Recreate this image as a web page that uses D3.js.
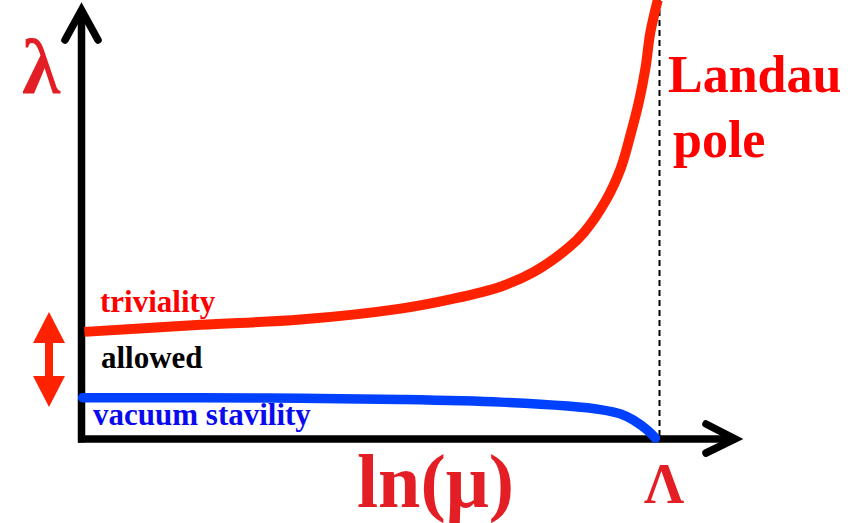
<!DOCTYPE html>
<html><head><meta charset="utf-8">
<script src="https://cdn.jsdelivr.net/npm/d3@7"></script>
<style>html,body{margin:0;padding:0;background:#fff;}svg{display:block;}
text{font-family:"Liberation Serif","Times New Roman",Times,"DejaVu Serif",serif;font-weight:bold;}</style>
</head><body>
<svg id="c" width="861" height="523"></svg>
<script>
// ln(mu) positions (Lambda = 10) and lambda values
const trivialityX = [0.05, 2.06, 3.79, 5.52, 6.38, 7.25, 7.82, 8.41, 8.69, 9.07, 9.33, 9.50, 9.65, 9.76, 9.84, 9.97];
const trivialityY = [2.44, 2.60, 2.72, 2.97, 3.18, 3.47, 3.80, 4.34, 4.70, 5.43, 6.17, 6.94, 7.72, 8.47, 9.25, 10.0];
const stabilityX = [0.02, 2.06, 3.79, 5.52, 7.25, 8.41, 8.98, 9.33, 9.55, 9.79, 9.93];
const stabilityY = [0.94, 0.94, 0.93, 0.90, 0.84, 0.75, 0.67, 0.57, 0.43, 0.20, 0.02];
const landauPole = 10;
const labels = {y: "λ", x: "ln(μ)", pole: "Λ", landau: ["Landau", "pole"],
  triv: "triviality", allowed: "allowed", vac: "vacuum stavility"};

const svg = d3.select("#c");
const x = d3.scaleLinear().domain([0, 10]).range([81.5, 659.5]);
const y = d3.scaleLinear().domain([0, 10]).range([439, 0]);

// dashed Landau pole line
svg.append("line").attr("x1", x(landauPole)).attr("x2", x(landauPole))
  .attr("y1", 0).attr("y2", y(0))
  .attr("stroke", "#000").attr("stroke-width", 2).attr("stroke-dasharray", "6,4");

const line = d3.line().x(d => x(d[0])).y(d => y(d[1])).curve(d3.curveCatmullRom.alpha(0.5));

// axes
const ax = svg.append("g").attr("stroke", "#000").attr("stroke-width", 7.5).attr("fill", "none");
ax.append("path").attr("d", `M${x(0)},${y(0) + 3.5}V12`).attr("stroke-linecap", "butt");
ax.append("path").attr("d", `M${x(0) - 3.5},${y(0)}H733`);
ax.append("path").attr("d", `M65,40L${x(0)},10L98,40`).attr("stroke-linecap", "round").attr("stroke-linejoin", "miter");
ax.append("path").attr("d", `M706,424L735,${y(0)}L706,453`).attr("stroke-linecap", "round").attr("stroke-linejoin", "miter");

// curves
svg.append("path").datum(stabilityX.map((v, i) => [v, stabilityY[i]]))
  .attr("d", line).attr("fill", "none").attr("stroke", "#0040FF").attr("stroke-width", 9.5)
  .attr("stroke-linecap", "round");
svg.append("path").datum(trivialityX.map((v, i) => [v, trivialityY[i]]))
  .attr("d", line).attr("fill", "none").attr("stroke", "#FF2200").attr("stroke-width", 10);

// double arrow
svg.append("path")
  .attr("d", "M49,312L65,343L53,343L53,376L65,376L49,407L33,376L45,376L45,343L33,343Z")
  .attr("fill", "#FF2200");

function txt(t, px, py, size, color, anchor) {
  svg.append("text").attr("x", px).attr("y", py).text(t)
    .attr("font-size", size)
    .attr("fill", color).attr("text-anchor", anchor || "start");
}
txt(labels.y, 22, 93, 78, "#E31E24");
txt(labels.x, 357, 507, 76, "#E31E24");
txt(labels.pole, 664, 503, 56, "#E31E24", "middle");
txt(labels.landau[0], 668, 92, 52, "#FF0000");
txt(labels.landau[1], 673, 157, 52, "#FF0000");
txt(labels.triv, 100, 312, 31, "#FF0000");
txt(labels.allowed, 101, 368, 31, "#000000");
txt(labels.vac, 93, 425, 31, "#0A0AEF");
</script>
</body></html>
